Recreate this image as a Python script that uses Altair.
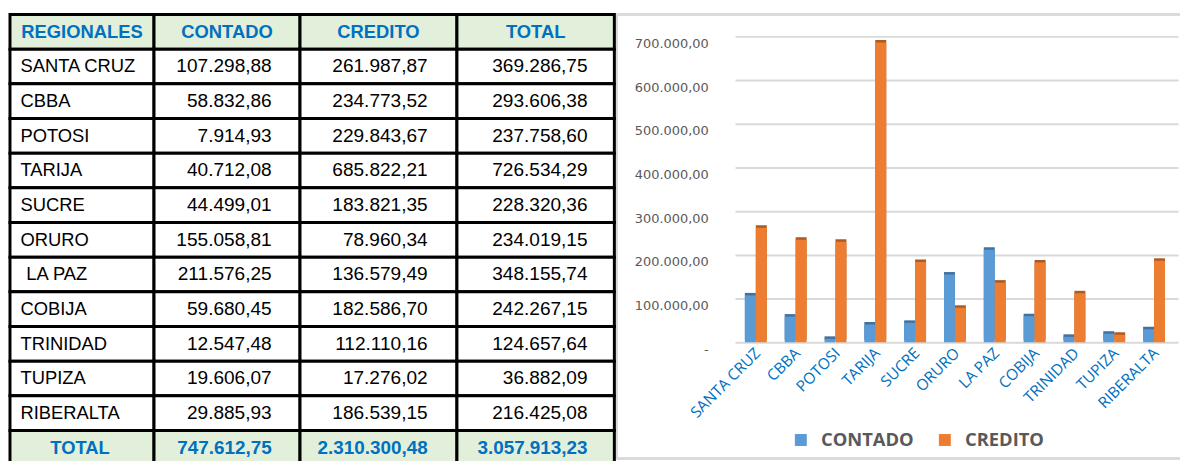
import altair as alt
import pandas as pd

# ---------------- data ----------------
regions = ["SANTA CRUZ", "CBBA", "POTOSI", "TARIJA", "SUCRE", "ORURO", "LA PAZ",
           "COBIJA", "TRINIDAD", "TUPIZA", "RIBERALTA"]
contado = [107298.88, 58832.86, 7914.93, 40712.08, 44499.01, 155058.81, 211576.25,
           59680.45, 12547.48, 19606.07, 29885.93]
credito = [261987.87, 234773.52, 229843.67, 685822.21, 183821.35, 78960.34, 136579.49,
           182586.70, 112110.16, 17276.02, 186539.15]
total = [369286.75, 293606.38, 237758.60, 726534.29, 228320.36, 234019.15, 348155.74,
         242267.15, 124657.64, 36882.09, 216425.08]
totals_row = [747612.75, 2310300.48, 3057913.23]
headers = ["REGIONALES", "CONTADO", "CREDITO", "TOTAL"]
total_label = "TOTAL"
series = ["CONTADO", "CREDITO"]
y_ticks = [0, 100000, 200000, 300000, 400000, 500000, 600000, 700000]

# ---------------- styles / layout ----------------
col_edges = [0, 145, 292, 450, 608.5]
row_step = 34.9
n_rows = 13
HEADER_FILL = "#E2EFDA"
BLUE_TXT = "#0070C0"
C_BLUE, C_ORANGE = "#5B9BD5", "#ED7D31"
C_BLUE_D, C_ORANGE_D = "#41719C", "#AE5A21"


def fmt(v):
    s = f"{v:,.2f}"
    return s.replace(",", "#").replace(".", ",").replace("#", ".")


# ---------------- table panel ----------------
cells = []
for r in range(n_rows):
    for c in range(4):
        fill = HEADER_FILL if r in (0, n_rows - 1) else "white"
        cells.append({"row": r, "x1": col_edges[c], "x2": col_edges[c + 1], "fill": fill})
cells = pd.DataFrame(cells)

centers = [(col_edges[c] + col_edges[c + 1]) / 2 for c in range(4)]
head_df = pd.DataFrame(
    [{"row": 0, "x": centers[c], "t": headers[c]} for c in range(4)]
    + [{"row": n_rows - 1, "x": centers[0] - 2, "t": total_label}]
)
name_df = pd.DataFrame(
    [{"row": i + 1, "x": col_edges[0] + 10.5 + (6 if regions[i] == "LA PAZ" else 0), "t": regions[i]}
     for i in range(len(regions))]
)
num_rows = []
pads = [28.5, 29.5, 27]
for i in range(len(regions)):
    for c, arr in enumerate([contado, credito, total]):
        num_rows.append({"row": i + 1, "x": col_edges[c + 2] - pads[c], "t": fmt(arr[i])})
num_df = pd.DataFrame(num_rows)
tot_df = pd.DataFrame(
    [{"row": n_rows - 1, "x": col_edges[c + 2] - pads[c], "t": fmt(totals_row[c])} for c in range(3)]
)

xs = alt.Scale(domain=[0, col_edges[-1]], nice=False, zero=False)
ys = alt.Scale(domain=list(range(n_rows)), paddingInner=0, paddingOuter=0, round=False)

rects = alt.Chart(cells).mark_rect(stroke="black", strokeWidth=3).encode(
    x=alt.X("x1:Q", scale=xs, axis=None),
    x2="x2:Q",
    y=alt.Y("row:O", scale=ys, axis=None),
    fill=alt.Fill("fill:N", scale=None),
)


def txt(df, align, bold, color, size):
    return alt.Chart(df).mark_text(
        align=align, baseline="middle", font="Liberation Sans", fontSize=size,
        fontWeight="bold" if bold else "normal", color=color,
    ).encode(
        x=alt.X("x:Q", scale=xs, axis=None),
        y=alt.Y("row:O", scale=ys, axis=None),
        text="t:N",
    )


table = alt.layer(
    rects,
    txt(head_df, "center", True, BLUE_TXT, 18.5),
    txt(name_df, "left", False, "black", 18.5),
    txt(num_df, "right", False, "black", 19.2),
    txt(tot_df, "right", True, BLUE_TXT, 19),
).properties(width=col_edges[-1], height=row_step * n_rows)

# ---------------- bar chart panel ----------------
bars_df = pd.DataFrame(
    [{"region": regions[i], "series": series[0], "value": contado[i]} for i in range(len(regions))]
    + [{"region": regions[i], "series": series[1], "value": credito[i]} for i in range(len(regions))]
)

x_enc = alt.X(
    "region:N", sort=regions, title=None,
    scale=alt.Scale(paddingInner=0.45, paddingOuter=0.287, align=0.43),
    axis=alt.Axis(labelAngle=315, labelAlign="right", labelBaseline="middle",
                  labelFont="Open Sans", labelFontSize=15.5, labelColor=BLUE_TXT,
                  ticks=False, domain=False, labelPadding=8, labelOffset=2, grid=False),
)
y_enc = alt.Y(
    "value:Q", title=None,
    scale=alt.Scale(domain=[0, 750000], nice=False),
    axis=alt.Axis(values=y_ticks,
                  labelExpr="datum.value == 0 ? '-' : format(datum.value / 1000, '.0f') + '.000,00'",
                  domain=False, ticks=False, grid=True, gridColor="#D9D9D9", gridWidth=2,
                  labelFont="DejaVu Sans", labelFontSize=13, labelColor="#595959",
                  labelPadding=27, labelOffset=7),
)
xo_enc = alt.XOffset("series:N", sort=series)

shadow = alt.Chart(bars_df).mark_bar(xOffset=3.5, yOffset=-2.5).encode(
    x=x_enc, y=y_enc, xOffset=xo_enc,
    color=alt.condition(alt.datum.series == "CONTADO", alt.value(C_BLUE_D), alt.value(C_ORANGE_D)),
)
front = alt.Chart(bars_df).mark_bar().encode(
    x=x_enc, y=y_enc, xOffset=xo_enc,
    color=alt.Color(
        "series:N", sort=series,
        scale=alt.Scale(domain=series, range=[C_BLUE, C_ORANGE]),
        legend=alt.Legend(orient="none", legendX=787, legendY=419, direction="horizontal",
                          title=None, symbolType="square", symbolSize=144, symbolStrokeWidth=0,
                          labelFont="Open Sans", labelFontWeight="bold", labelFontSize=18.5,
                          labelColor="#595959", columnPadding=22, labelOffset=11),
    ),
)

frame_col = "#D9D9D9"
fr_left = alt.Chart(bars_df).mark_rule(color=frame_col, strokeWidth=1.5).encode(
    x=alt.value(-119), y=alt.value(0), y2=alt.value(447))
fr_top = alt.Chart(bars_df).mark_rule(color=frame_col, strokeWidth=1.5).encode(
    x=alt.value(-119), x2=alt.value(448), y=alt.value(0))
fr_bot = alt.Chart(bars_df).mark_rule(color=frame_col, strokeWidth=1.5).encode(
    x=alt.value(-119), x2=alt.value(448), y=alt.value(447))

bar_chart = alt.layer(fr_left, fr_top, fr_bot, shadow, front).properties(width=446, height=330)

chart = alt.hconcat(table, bar_chart, spacing=0).properties(
    padding={"left": 0, "top": 3, "right": 0, "bottom": 0},
    background="white",
).configure_view(stroke=None)

chart.save("out.html", embed_options={"renderer": "svg", "actions": False})
